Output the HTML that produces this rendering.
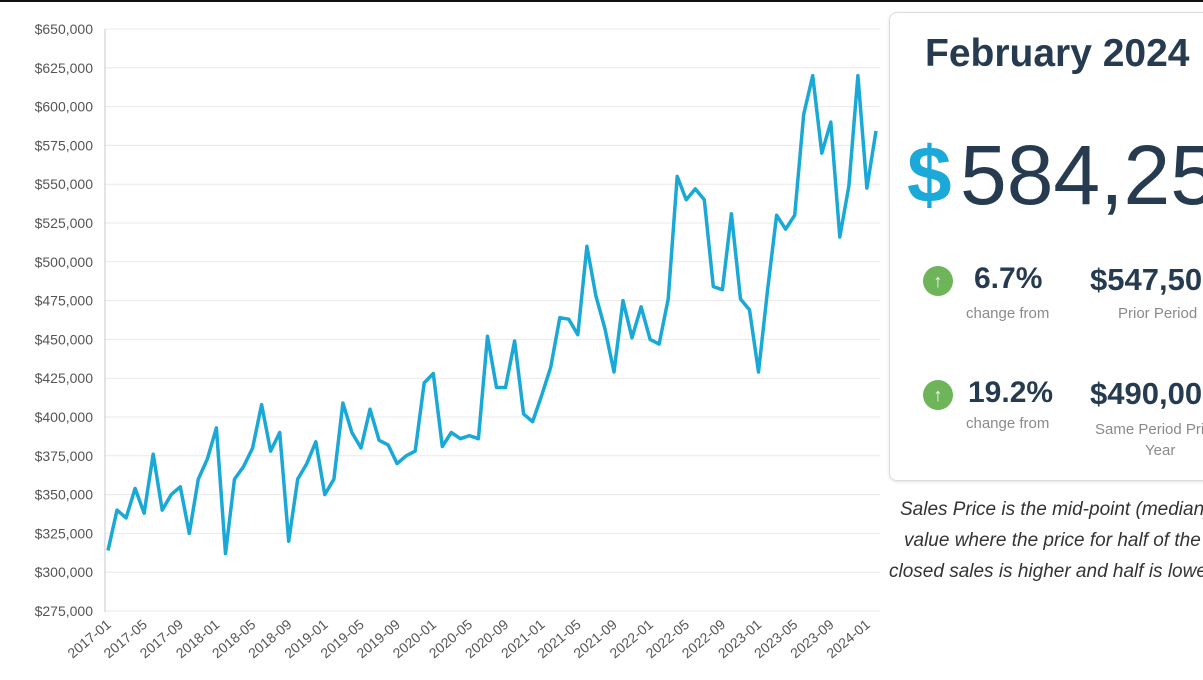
<!DOCTYPE html>
<html><head><meta charset="utf-8">
<style>
html,body{margin:0;padding:0;background:#fff;}
body{width:1203px;height:680px;overflow:hidden;position:relative;font-family:"Liberation Sans",sans-serif;}
#clip{position:absolute;left:0;top:0;width:1203px;height:680px;overflow:hidden;}
.abs{position:absolute;white-space:nowrap;}
#card{position:absolute;left:889px;top:12px;width:330px;height:467px;border:1px solid #dcdcdc;border-radius:8px;box-shadow:0 1px 3px rgba(0,0,0,0.12);background:#fff;}
.dark{color:#263b4f;}
.gray{color:#8a8a8a;font-size:15px;}
.circ{position:absolute;width:30px;height:30px;border-radius:50%;background:#6db558;color:#fff;font-size:18px;line-height:30px;text-align:center;font-weight:bold;}
.note{font-style:italic;font-size:19px;color:#333;}
</style></head>
<body>
<div id="clip">
<div class="abs" style="left:0;top:0;width:1203px;height:2px;background:#111;"></div>
<svg id="chart" width="885" height="680" style="position:absolute;left:0;top:0;"></svg>

<div id="card"></div>
<div class="abs dark" style="left:925px;top:32px;font-size:39px;font-weight:bold;">February 2024</div>
<div class="abs" style="left:907px;top:128px;font-size:80px;font-weight:bold;color:#1aa9d9;line-height:94px;">$</div>
<div class="abs dark" style="left:960px;top:128px;font-size:84px;line-height:94px;">584,250</div>

<div class="circ" style="left:923px;top:266px;">↑</div>
<div class="abs dark" style="left:974px;top:262px;font-size:30px;font-weight:bold;">6.7%</div>
<div class="abs gray" style="left:966px;top:305px;">change from</div>
<div class="abs dark" style="left:1090px;top:262px;font-size:31px;font-weight:bold;">$547,500</div>
<div class="abs gray" style="left:1118px;top:305px;">Prior Period</div>

<div class="circ" style="left:923px;top:380px;">↑</div>
<div class="abs dark" style="left:968px;top:376px;font-size:30px;font-weight:bold;">19.2%</div>
<div class="abs gray" style="left:966px;top:415px;">change from</div>
<div class="abs dark" style="left:1090px;top:376px;font-size:31px;font-weight:bold;">$490,000</div>
<div class="abs gray" style="left:1095px;top:421px;">Same Period Prior</div>
<div class="abs gray" style="left:1145px;top:442px;">Year</div>

<div class="abs note" style="left:900px;top:499px;">Sales Price is the mid-point (median)</div>
<div class="abs note" style="left:904px;top:530px;">value where the price for half of the</div>
<div class="abs note" style="left:889px;top:561px;">closed sales is higher and half is lower.</div>
</div>

<script>
const startYear = 2017;
const values = [314,340,335,354,338,376,340,350,355,325,360,373,
393,312,360,368,380,408,378,390,320,360,370,384,
350,360,409,390,380,405,385,382,370,375,378,422,
428,381,390,386,388,386,452,419,419,449,402,397,
414,432,464,463,453,510,478,457,429,475,451,471,
450,447,476,555,540,547,540,484,482,531,476,469,
429,482,530,521,530,595,620,570,590,516,549,620,
547.5,584.25];
const yTicks = [275,300,325,350,375,400,425,450,475,500,525,550,575,600,625,650];

const NS="http://www.w3.org/2000/svg";
const svg=document.getElementById('chart');
const X0=108, XSTEP=9.035, YTOP=29, YBOT=611, VMIN=275, VMAX=650;
function xs(i){return X0+i*XSTEP;}
function ys(v){return YBOT-(v-VMIN)/(VMAX-VMIN)*(YBOT-YTOP);}
function mk(tag,attrs){const e=document.createElementNS(NS,tag);for(const k in attrs)e.setAttribute(k,attrs[k]);svg.appendChild(e);return e;}

yTicks.forEach(t=>{
  const y=ys(t);
  const g=mk('line',{x1:105,x2:880,y1:y,y2:y,stroke:'#e8e8e8','stroke-width':1});
  
  
  const tx=mk('text',{x:93,y:y+5,'text-anchor':'end','font-size':14,fill:'#555','font-family':'Liberation Sans, sans-serif'});
  tx.textContent='$'+t+',000';
  
  
});
const ax=mk('line',{x1:105,x2:105,y1:29,y2:612,stroke:'#c8c8c8','stroke-width':1});



for(let i=0;i<values.length;i+=4){
  const yr=startYear+Math.floor(i/12), m=(i%12)+1;
  const lab=yr+'-'+(m<10?'0':'')+m;
  const x=xs(i);
  const tx=mk('text',{x:x+4,y:626,'text-anchor':'end','font-size':14,fill:'#555','font-family':'Liberation Sans, sans-serif',transform:'rotate(-40 '+(x+4)+' 626)'});
  tx.textContent=lab;
  
  
}
const pts=values.map((v,i)=>xs(i).toFixed(1)+','+ys(v).toFixed(1)).join(' ');
const line=mk('polyline',{points:pts,fill:'none',stroke:'#1aa9d6','stroke-width':3.5,'stroke-linejoin':'round'});


</script>
</body></html>
